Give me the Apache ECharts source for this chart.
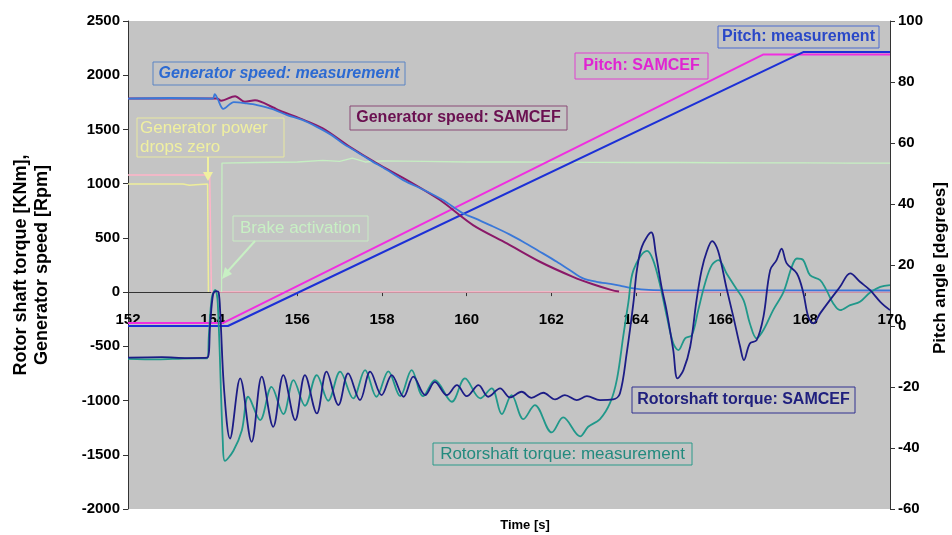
<!DOCTYPE html>
<html>
<head>
<meta charset="utf-8">
<script src="https://cdn.jsdelivr.net/npm/echarts@6/dist/echarts.min.js"></script>
<style>html,body{margin:0;padding:0;background:#fff}#c{width:952px;height:535px}</style>
</head>
<body>
<div id="c"></div>
<script>
// ---- tick settings ----
const xTicks = {min: 152, max: 170, interval: 2};
const leftTicks = {min: -2000, max: 2500, interval: 500};
const rightTicks = {min: -60, max: 100, interval: 20};

// ---- Rotorshaft torque: SAMCEF (kNm) ----
const torqueSamcefT = [152.00,152.80,153.40,153.87,153.94,154.01,154.08,154.14,154.18,154.27,154.41,154.65,154.92,155.16,155.43,155.67,155.95,156.18,156.46,156.69,156.97,157.20,157.48,157.72,157.99,158.23,158.51,158.74,159.02,159.25,159.53,159.77,160.00,160.28,160.51,160.79,161.02,161.30,161.53,161.81,162.09,162.32,162.60,162.84,163.15,163.46,163.62,163.78,163.94,164.02,164.14,164.36,164.47,164.61,164.72,164.88,164.98,165.12,165.28,165.43,165.55,165.67,165.80,165.94,166.14,166.30,166.46,166.55,166.69,166.85,167.01,167.17,167.32,167.44,167.56,167.80,167.95,168.07,168.19,168.35,168.58,168.82,169.06,169.29,169.53,169.77,170.00];
const torqueSamcefV = [-605,-600,-608,-605,-300,-20,10,0,-200,-900,-1350,-796,-1380,-780,-1242,-765,-1180,-765,-1119,-734,-1042,-750,-996,-734,-950,-765,-965,-780,-950,-827,-950,-858,-960,-858,-965,-888,-971,-919,-975,-928,-990,-950,-996,-960,-996,-990,-934,-565,-95,200,420,550,350,34,-166,-535,-796,-719,-504,-74,203,372,470,380,34,-228,-504,-627,-473,-443,-228,203,295,400,265,172,-3,-228,-289,-196,-74,49,172,95,18,-89,-166];

// ---- Rotorshaft torque: measurement (kNm) ----
const torqueMeasT = [152.00,152.70,153.30,153.87,153.91,153.98,154.06,154.12,154.24,154.29,154.49,154.69,154.84,155.12,155.39,155.67,155.91,156.18,156.46,156.73,157.01,157.32,157.60,157.87,158.15,158.43,158.70,158.97,159.25,159.65,159.96,160.32,160.59,160.83,161.06,161.34,161.61,162.01,162.28,162.68,162.87,163.15,163.39,163.55,163.70,163.82,163.94,164.26,164.40,164.56,164.73,164.88,165.00,165.16,165.32,165.47,165.63,165.79,165.95,166.14,166.34,166.54,166.69,166.85,167.01,167.24,167.48,167.68,167.80,167.95,168.11,168.35,168.50,168.66,168.82,169.06,169.29,169.53,169.77,170.00];
const torqueMeasV = [-615,-620,-612,-610,-400,-50,20,-100,-1383,-1556,-1463,-1273,-965,-1180,-873,-1125,-811,-1048,-765,-1002,-734,-980,-719,-965,-730,-960,-719,-960,-811,-1011,-796,-980,-888,-1125,-950,-1171,-1042,-1294,-1156,-1330,-1242,-1171,-1020,-802,-403,-95,203,380,300,80,-228,-473,-535,-427,-397,-166,80,249,295,172,49,-74,-289,-427,-350,-166,-3,233,310,295,157,111,18,-104,-166,-120,-89,-3,49,65];

// ---- Generator speed: measurement (rpm) ----
const speedMeasT = [152.0,153.0,154.0,154.05,154.12,154.25,154.5,154.8,155.05,155.4,155.76,156.1,156.46,156.8,157.08,157.4,157.72,158.1,158.5,159.0,159.44,159.91,160.2,160.55,161.0,161.33,161.7,162.13,162.45,162.75,163.07,163.4,163.62,163.9,164.3,165.0,170.0];
const speedMeasV = [1785,1790,1785,1826,1780,1690,1752,1740,1725,1690,1632,1590,1524,1450,1371,1295,1217,1130,1033,940,849,727,680,618,535,465,380,280,200,127,95,75,60,37,20,16,15];

// ---- Generator speed: SAMCEF (rpm) ----
const speedSamcefT = [152.0,154.1,154.2,154.53,154.76,155.0,155.43,155.59,156.06,156.6,157.24,157.88,158.59,159.37,160.15,160.95,161.73,162.51,163.0,163.43,163.6];
const speedSamcefV = [1785,1785,1765,1807,1755,1770,1702,1672,1602,1510,1340,1187,1033,849,618,449,280,141,70,18,5];

// ---- Pitch angle (degrees) ----
const pitchSamcefT = [152.0,154.25,167.0,170.0];
const pitchSamcefV = [1.0,1.0,89,89];
const pitchMeasT = [152.0,154.36,167.95,170.0];
const pitchMeasV = [0,0,89.8,89.8];

// ---- Generator power & brake signals ----
const powerYellowT = [152.0,153.3,153.45,153.6,153.88,153.9];
const powerYellowV = [996,996,985,990,996,0];
const powerPinkT = [152.0,153.93,153.97,170.0];
const powerPinkV = [1080,1080,0,0];
const brakeT = [154.21,154.22,155.0,156.0,156.6,157.0,157.3,157.6,158.0,159.0,160.0,161.0,162.0,163.0,164.0,165.0,166.0,167.0,168.0,169.0,170.0];
const brakeV = [0,1190,1195,1200,1215,1205,1235,1200,1210,1205,1200,1200,1198,1196,1195,1195,1193,1192,1192,1190,1190];

function zip(t, v) { return t.map((x, i) => [x, v[i]]); }

const chart = echarts.init(document.getElementById('c'), null, {renderer: 'canvas'});

const F = 'Liberation Sans, Arial, sans-serif';
const lbl = {color: '#000', fontWeight: 'bold', fontSize: 15, fontFamily: F, formatter: v => String(v)};
const axLine = {show: true, lineStyle: {color: '#333', width: 1}};

function ser(name, t, v, color, width, yIdx, z, smooth) {
  return {
    name: name, type: 'line', yAxisIndex: yIdx, data: zip(t, v),
    showSymbol: false, symbol: 'none', smooth: smooth || false, z: z,
    lineStyle: {color: color, width: width}, emphasis: {disabled: true}
  };
}

function box(x, y, w, h, stroke) {
  return {type: 'rect', shape: {x: x, y: y, width: w, height: h}, style: {fill: 'none', stroke: stroke, lineWidth: 1}, z: 100};
}
function txt(x, y, s, color, weight, style, size, align) {
  return {type: 'text', x: x, y: y, style: {text: s, fill: color, fontFamily: F, fontSize: size || 16, fontWeight: weight, fontStyle: style || 'normal', align: align || 'center', verticalAlign: 'middle', lineHeight: 19}, z: 101};
}

// grid: top 21, bottom edge at 509 -> zero of left axis at 21 + 488*2500/4500
const gridTop = 21, gridBottom = 26, gridH = 535 - gridTop - gridBottom;
const zeroOffset = -(gridH * (0 - leftTicks.min) / (leftTicks.max - leftTicks.min));

chart.setOption({
  animation: false,
  backgroundColor: '#ffffff',
  grid: {left: 128, right: 62, top: gridTop, bottom: gridBottom, show: true, backgroundColor: '#c4c4c4', borderWidth: 0, containLabel: false, outerBoundsMode: 'none'},
  xAxis: {
    type: 'value', min: xTicks.min, max: xTicks.max, interval: xTicks.interval,
    position: 'bottom', offset: zeroOffset,
    axisLine: {show: true, onZero: false, lineStyle: {color: '#333', width: 1}},
    axisTick: {show: true, length: 4, lineStyle: {color: '#333'}},
    axisLabel: Object.assign({margin: 20}, lbl),
    splitLine: {show: false}
  },
  yAxis: [
    {type: 'value', position: 'left', min: leftTicks.min, max: leftTicks.max, interval: leftTicks.interval,
     axisLine: axLine, axisTick: {show: true, length: 5, lineStyle: {color: '#333'}},
     axisLabel: Object.assign({margin: 8}, lbl), splitLine: {show: false}},
    {type: 'value', position: 'right', min: rightTicks.min, max: rightTicks.max, interval: rightTicks.interval,
     axisLine: axLine, axisTick: {show: true, length: 5, lineStyle: {color: '#333'}},
     axisLabel: Object.assign({margin: 8}, lbl), splitLine: {show: false}}
  ],
  series: [
    ser('Generator power', powerYellowT, powerYellowV, '#eeee9a', 1.5, 0, 2),
    ser('Generator power SAMCEF', powerPinkT, powerPinkV, '#ffb4c8', 1.5, 0, 3),
    ser('Brake', brakeT, brakeV, '#c6efc2', 1.3, 0, 3),
    ser('Pitch: SAMCEF', pitchSamcefT, pitchSamcefV, '#f02ee0', 2, 1, 4),
    ser('Pitch: measurement', pitchMeasT, pitchMeasV, '#1c30d6', 2, 1, 5),
    ser('Generator speed: SAMCEF', speedSamcefT, speedSamcefV, '#8a1868', 2, 0, 6, 0.3),
    ser('Generator speed: measurement', speedMeasT, speedMeasV, '#3a78d8', 1.8, 0, 7, 0.3),
    ser('Rotorshaft torque: measurement', torqueMeasT, torqueMeasV, '#20988a', 1.8, 0, 8, 0.35),
    ser('Rotorshaft torque: SAMCEF', torqueSamcefT, torqueSamcefV, '#1c1c86', 1.8, 0, 9, 0.35)
  ],
  graphic: [
    // axis titles
    {type: 'text', x: 32, y: 265, rotation: Math.PI / 2, style: {text: 'Rotor shaft torque [KNm],\nGenerator speed [Rpm]', fill: '#000', fontFamily: F, fontSize: 18, fontWeight: 'bold', align: 'center', verticalAlign: 'middle', lineHeight: 21}, z: 100},
    {type: 'text', x: 940, y: 268, rotation: Math.PI / 2, style: {text: 'Pitch angle [degrees]', fill: '#000', fontFamily: F, fontSize: 17, fontWeight: 'bold', align: 'center', verticalAlign: 'middle'}, z: 100},
    {type: 'text', x: 525, y: 525, style: {text: 'Time [s]', fill: '#000', fontFamily: F, fontSize: 13, fontWeight: 'bold', align: 'center', verticalAlign: 'middle'}, z: 100},
    // annotation boxes
    box(153, 62, 252, 23, '#5a84c4'), txt(279, 73.5, 'Generator speed: measurement', '#2c6ad2', 'bold', 'italic'),
    box(350, 106, 217, 24, '#8a4a76'), txt(458.5, 118, 'Generator speed: SAMCEF', '#6a1050', 'bold'),
    box(575, 53, 133, 26, '#e040d0'), txt(641.5, 66, 'Pitch: SAMCEF', '#e024d2', 'bold'),
    box(718, 26, 161, 22, '#4a6ad0'), txt(798.5, 37, 'Pitch: measurement', '#2a48c8', 'bold'),
    box(137, 118, 147, 39, '#e8e8a0'), txt(140, 137.5, 'Generator power\ndrops zero', '#f0f0a0', 'normal', 'normal', 17, 'left'),
    box(233, 216, 135, 25, '#c8ecc4'), txt(300.5, 228.5, 'Brake activation', '#c8f0c4', 'normal', 'normal', 17),
    box(632, 387, 223, 26, '#303090'), txt(743.5, 400, 'Rotorshaft torque: SAMCEF', '#20207e', 'bold'),
    box(433, 443, 259, 22, '#2a9a8a'), txt(562.5, 454, 'Rotorshaft torque: measurement', '#238a7e', 'normal', 'normal', 17),
    // arrows
    {type: 'line', shape: {x1: 208, y1: 157, x2: 208, y2: 174}, style: {stroke: '#f0f0a0', lineWidth: 2}, z: 100},
    {type: 'polygon', shape: {points: [[203, 172], [213, 172], [208, 181]]}, style: {fill: '#f0f0a0'}, z: 100},
    {type: 'line', shape: {x1: 255, y1: 241, x2: 228, y2: 271}, style: {stroke: '#c8f0c4', lineWidth: 2}, z: 100},
    {type: 'polygon', shape: {points: [[222, 279], [225, 267], [232, 274]]}, style: {fill: '#c8f0c4'}, z: 100}
  ]
});
</script>
</body>
</html>
